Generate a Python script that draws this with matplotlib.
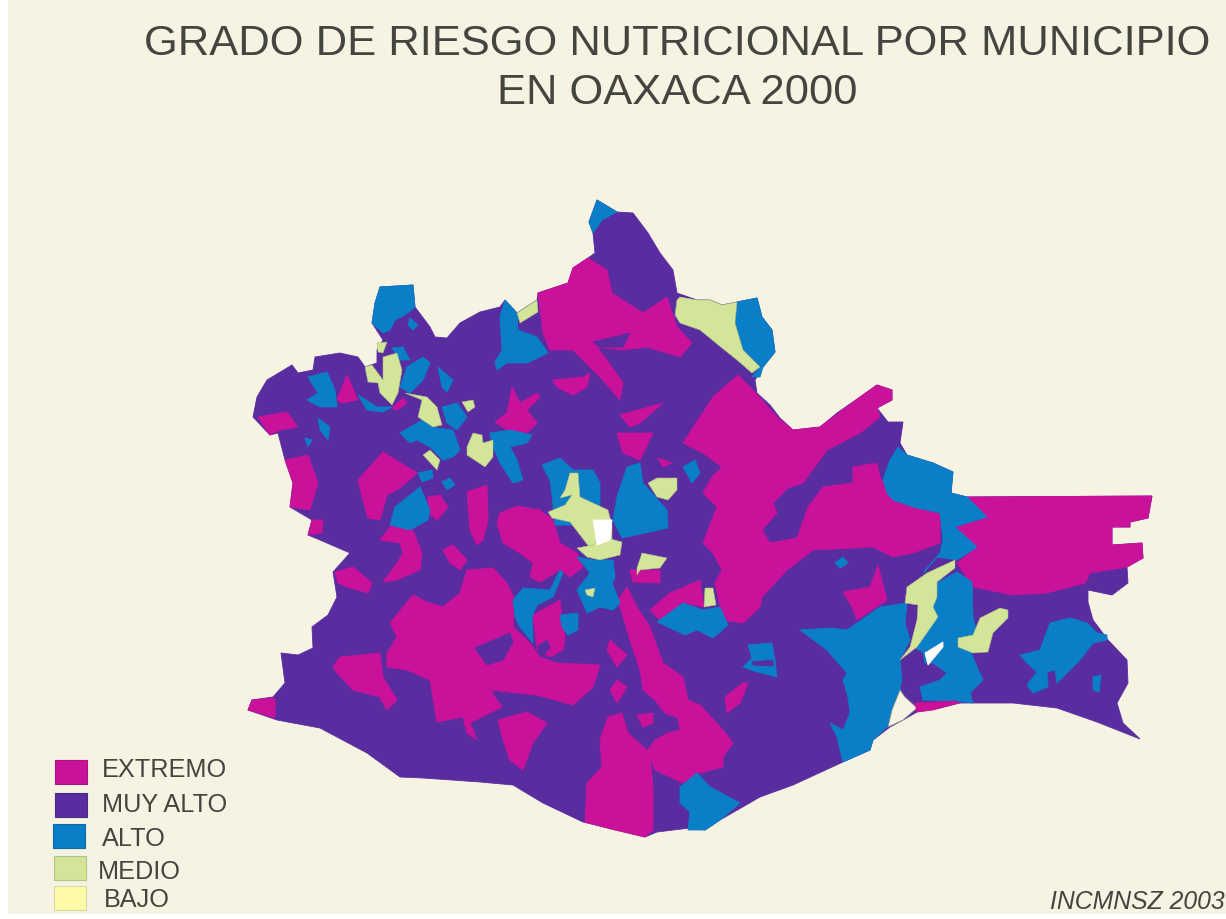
import matplotlib
matplotlib.use("Agg")
import matplotlib.pyplot as plt
from matplotlib.patches import Rectangle

plt.rcParams['font.family'] = ['Liberation Sans', 'DejaVu Sans']

TITLE_LINES = ["GRADO DE RIESGO NUTRICIONAL POR MUNICIPIO", "EN OAXACA 2000"]
CREDIT = "INCMNSZ 2003"
LEGEND_LABELS = ["EXTREMO", "MUY ALTO", "ALTO", "MEDIO", "BAJO"]

COL_BG = "#F6F3E2"
COL_EXTREMO = "#C9119A"
COL_MUY_ALTO = "#592DA0"
COL_ALTO = "#0A7EC6"
COL_MEDIO = "#D3E598"
COL_BAJO = "#FDFBA8"
COL_TEXT = "#444441"

# Map outline of the state (map x, map y)
ESTADO = [(248,710),(252,700),(273,697),(285,683),(281,653),(298,655),(313,648),(312,627),(328,615),(337,597),
 (333,572),(350,553),(320,540),(308,535),(312,520),(290,507),(293,483),(285,460),(278,433),(270,435),(253,417),
 (257,397),(267,380),(292,365),(298,373),(313,370),(315,357),(340,353),(358,357),(365,367),(377,363),(377,350),
 (383,340),(372,323),(375,303),(380,287),(413,285),(415,307),(430,327),(435,337),(447,338),(460,323),(480,312),
 (500,307),(505,300),(517,313),(537,300),(538,293),(568,283),(573,268),(588,258),(595,253),(593,233),(589,222),
 (597,200),(617,212),(633,213),(648,233),(660,253),(673,270),(677,293),(697,300),(710,300),(722,305),(737,302),
 (757,298),(762,317),(772,330),(775,352),(763,367),(755,380),(757,393),(770,405),(780,418),(793,430),(820,427),
 (837,413),(860,397),(877,385),(892,390),(892,400),(877,408),(888,422),(903,422),(900,443),(907,455),(933,463),
 (953,472),(951,493),(967,497),(1152,496),(1148,518),(1130,522),(1130,527),(1112,527),(1112,545),(1142,543),
 (1143,558),(1127,567),(1128,583),(1112,595),(1088,590),(1088,602),(1093,620),(1108,640),(1127,660),(1128,683),
 (1117,703),(1123,723),(1140,739),(1097,722),(1057,708),(1013,703),(960,703),(940,708),(917,712),(903,720),
 (890,727),(873,740),(870,750),(843,762),(793,785),(760,797),(720,820),(705,830),(690,828),(657,832),(645,837),
 (583,822),(543,803),(513,785),(480,782),(423,778),(400,777),(367,753),(320,728),(277,720)]

EXTREMO = [
 [(248,710),(252,700),(275,698),(275,718)],
 [(413,595),(427,602),(443,607),(460,593),(467,570),(493,568),(507,583),(515,600),(513,627),(530,643),(540,657),
  (557,663),(600,665),(593,687),(573,705),(537,695),(490,690),(502,707),(470,723),(477,740),(467,733),(463,717),
  (437,722),(430,680),(407,670),(387,667),(387,653),(397,637),(390,623)],
 [(333,667),(340,657),(380,653),(383,677),(397,700),(387,710),(380,697),(353,690),(337,673)],
 [(335,572),(353,567),(372,583),(368,593),(347,587),(338,583)],
 [(498,720),(527,712),(547,723),(533,743),(523,770),(510,760),(503,740)],
 [(585,822),(587,783),(602,767),(600,740),(608,717),(622,713),(628,733),(650,753),(653,787),(653,830),(645,837),(615,830)],
 [(627,587),(637,607),(650,627),(663,663),(683,677),(688,700),(700,705),(723,730),(733,743),(723,757),(723,767),
  (700,773),(683,783),(672,778),(655,770),(648,750),(655,740),(668,733),(680,730),(678,718),(665,713),(655,700),
  (643,690),(640,670),(630,640),(618,600)],
 [(610,640),(627,655),(617,667),(607,650)],
 [(617,680),(627,687),(617,703),(610,690)],
 [(637,715),(653,713),(653,723),(643,727)],
 [(497,523),(500,513),(517,506),(540,510),(553,520),(560,543),(577,553),(583,567),(570,577),(560,570),(540,582),
  (530,577),(533,563),(520,553),(503,543)],
 [(380,540),(390,527),(410,523),(422,553),(420,570),(397,580),(383,582),(397,563),(403,553),(400,543)],
 [(443,550),(453,545),(467,560),(460,570),(450,563)],
 [(467,492),(487,485),(488,520),(483,540),(477,545),(470,530)],
 [(428,497),(440,495),(448,507),(437,520),(428,513)],
 [(358,480),(383,452),(417,473),(400,488),(387,495),(380,520),(368,518),(362,497)],
 [(285,460),(308,455),(318,483),(310,510),(290,507),(293,483)],
 [(308,535),(312,520),(323,520),(322,533)],
 [(258,417),(287,412),(298,427),(280,430),(270,435)],
 [(337,400),(347,375),(358,400),(342,403)],
 [(392,408),(403,398),(407,403),(397,410)],
 [(495,422),(507,413),(512,387),(520,403),(537,393),(540,397),(527,410),(537,423),(527,433),(507,430)],
 [(538,293),(568,283),(573,268),(588,258),(607,270),(612,293),(643,313),(667,297),(677,327),(692,343),(680,357),
  (647,347),(623,350),(597,347),(607,360),(623,383),(620,400),(600,377),(590,367),(573,350),(550,350),(543,333)],
 [(553,380),(583,377),(590,373),(587,387),(573,395),(557,387)],
 [(620,415),(663,403),(640,423),(630,427)],
 [(617,433),(653,433),(640,460),(623,453)],
 [(658,458),(672,463),(663,467)],
 [(683,443),(713,397),(738,375),(753,390),(777,417),(793,430),(820,427),(860,397),(877,385),(892,390),(892,400),
  (877,408),(880,417),(860,433),(827,450),(803,483),(788,488),(773,503),(777,513),(762,530),(770,543),(797,538),
  (808,507),(823,487),(853,483),(853,467),(877,463),(880,477),(893,500),(913,507),(940,513),(940,543),(913,553),
  (893,557),(873,547),(813,550),(787,570),(762,597),(760,607),(743,623),(723,620),(715,583),(722,570),(713,553),
  (703,543),(717,507),(703,493),(712,477),(722,467),(703,453)],
 [(650,610),(670,593),(700,580),(704,607),(683,603),(660,620)],
 [(967,497),(1152,496),(1148,518),(1130,522),(1130,527),(1112,527),(1112,545),(1142,543),(1143,558),(1127,567),
  (1090,573),(1085,583),(1047,593),(1013,595),(973,587),(957,563),(977,547),(955,527),(987,517)],
 [(935,485),(943,490),(938,492)],
 [(725,697),(743,683),(748,683),(740,703),(727,713)],
 [(843,592),(870,587),(878,565),(887,600),(857,620),(852,607)],
 [(533,615),(560,600),(565,637),(563,650),(550,657),(537,650)],
 [(630,570),(660,570),(660,583),(633,582)],
 [(603,588),(613,588),(607,593)],
 [(915,703),(957,701),(958,703),(933,710),(917,712)],
]

MUY_ALTO = [
 [(475,648),(510,633),(513,642),(503,660),(487,665)],
 [(593,342),(630,333),(623,347),(600,347)],
 [(537,647),(547,640),(550,648),(542,657)],
]

ALTO = [
 [(898,447),(907,455),(933,463),(953,472),(951,493),(967,497),(987,517),(955,527),(977,547),(957,560),(937,557),
  (923,573),(940,553),(943,540),(940,513),(913,507),(893,500),(887,493),(883,480),(890,460)],
 [(957,572),(972,582),(973,617),(977,633),(958,640),(970,650),(977,667),(983,680),(970,693),(973,703),(957,701),
  (923,700),(920,687),(940,680),(947,673),(933,663),(925,663),(923,652),(915,648),(937,617),(933,607),(937,583)],
 [(800,630),(830,628),(847,630),(857,623),(880,607),(907,603),(905,623),(910,640),(900,660),(902,680),(900,687),
  (903,697),(893,710),(887,727),(873,740),(870,750),(843,762),(837,737),(830,723),(843,730),(850,713),(848,697),
  (843,680),(847,673),(827,650)],
 [(748,645),(772,643),(775,660),(777,677),(757,672),(743,667),(752,658)],
 [(680,787),(697,773),(710,787),(740,803),(720,820),(705,830),(688,830),(690,812),(680,803)],
 [(657,622),(683,603),(703,610),(720,607),(728,625),(713,638),(697,630),(685,635)],
 [(1020,655),(1040,650),(1050,623),(1070,618),(1087,623),(1097,633),(1107,635),(1107,640),(1093,643),(1080,660),
  (1057,683),(1055,670),(1047,672),(1048,687),(1033,693),(1027,685),(1037,672),(1027,663)],
 [(1093,677),(1101,675),(1099,692),(1093,690)],
 [(380,287),(413,285),(415,307),(405,315),(395,320),(390,330),(383,333),(372,323),(375,303)],
 [(410,318),(418,325),(413,330),(408,325)],
 [(505,300),(517,313),(518,330),(537,337),(548,353),(527,363),(507,363),(497,370),(495,362),(502,350),(500,317)],
 [(737,302),(757,298),(762,317),(772,330),(775,352),(763,367),(760,377),(752,377),(760,367),(743,350),(735,323)],
 [(597,200),(617,212),(602,220),(593,233),(589,222)],
 [(308,377),(327,372),(335,390),(337,407),(320,407),(307,400),(318,393)],
 [(358,395),(377,407),(392,407),(383,412),(367,410)],
 [(392,348),(403,347),(410,360),(400,360)],
 [(400,387),(407,367),(423,357),(430,363),(423,380),(410,393)],
 [(438,367),(453,380),(447,392),(442,387)],
 [(318,418),(330,427),(328,440),(320,430)],
 [(305,438),(312,440),(308,447)],
 [(442,407),(457,403),(467,417),(457,430),(447,423)],
 [(400,433),(422,420),(437,428),(453,430),(460,450),(453,457),(443,460),(430,447),(417,440),(410,443)],
 [(418,473),(432,470),(433,478),(422,482)],
 [(442,482),(450,478),(455,485),(447,490)],
 [(395,507),(420,487),(430,510),(428,520),(410,530),(390,525)],
 [(490,433),(510,430),(532,435),(527,443),(510,447),(517,460),(523,480),(513,483),(500,463),(493,447)],
 [(542,465),(560,458),(573,470),(593,470),(600,483),(600,510),(612,520),(590,525),(555,525),(552,495),(550,480)],
 [(577,557),(593,560),(613,560),(615,578),(612,583),(620,603),(613,610),(600,607),(587,613),(577,590),(590,573)],
 [(627,467),(640,463),(643,483),(667,510),(668,528),(622,538),(613,520),(617,497)],
 [(683,467),(695,460),(700,473),(692,483)],
 [(513,600),(523,588),(550,590),(560,570),(563,573),(553,597),(537,605),(532,617),(533,643),(520,627),(515,617)],
 [(560,615),(578,613),(578,630),(568,635),(562,627)],
 [(835,563),(843,557),(848,563),(840,568)],
]

MUY_ALTO_SOBRE_ALTO = [
 [(752,662),(773,660),(773,666),(753,665)],
]

MEDIO = [
 [(955,560),(955,568),(937,582),(937,597),(933,607),(938,617),(917,647),(900,660),(910,647),(917,620),(918,605),(905,603),(907,587),(927,573)],
 [(980,618),(1000,608),(1008,610),(1008,618),(993,633),(988,652),(973,653),(958,647),(958,638),(973,635)],
 [(705,588),(713,588),(716,605),(704,607)],
 [(517,313),(537,300),(538,312),(520,323)],
 [(680,297),(697,300),(710,300),(722,305),(737,302),(735,323),(743,350),(760,367),(752,373),(737,360),(722,348),(700,330),(680,323),(675,315),(677,300)],
 [(365,367),(372,365),(383,380),(383,357),(397,353),(402,370),(398,393),(392,405),(380,393),(378,383),(368,382)],
 [(377,343),(387,342),(383,353),(378,352)],
 [(405,393),(427,397),(437,407),(442,425),(433,427),(418,417),(422,400)],
 [(462,402),(473,400),(475,407),(468,412)],
 [(423,455),(430,450),(440,460),(437,470)],
 [(467,447),(473,433),(482,435),(483,443),(493,440),(493,457),(485,467),(467,455)],
 [(570,473),(578,473),(580,497),(593,503),(608,510),(612,525),(612,545),(590,548),(570,522),(552,518),(548,512),(565,505),(572,495),(560,498),(565,490)],
 [(577,548),(593,545),(603,537),(622,542),(620,555),(600,560),(587,557)],
 [(585,590),(595,588),(593,597),(587,595)],
 [(648,483),(657,478),(677,478),(677,490),(668,500),(657,497)],
 [(642,553),(667,558),(660,568),(640,570),(637,575),(637,568)],
]

SIN_DATO = [
 [(593,520),(612,520),(610,540),(597,545)],
 [(925,653),(943,642),(943,647),(928,665)],
]

BAHIA = [
 [(900,690),(905,697),(917,708),(903,720),(888,727),(892,710)],
]

fig = plt.figure(figsize=(12.26, 9.19), dpi=100, facecolor="white")
ax = fig.add_axes([0, 0, 1, 1])
ax.set_xlim(0, 1226)
ax.set_ylim(919, 0)
ax.axis("off")

ax.add_patch(Rectangle((8, 0), 1218, 914, facecolor=COL_BG, edgecolor="none", zorder=0))

def draw(polys, color, z, edge=None, lw=0.0):
    for p in polys:
        xs, ys = zip(*p)
        ax.fill(xs, ys, facecolor=color, edgecolor=edge if edge else color,
                linewidth=lw if edge else 0.6, zorder=z)

draw([ESTADO], COL_MUY_ALTO, 1)
draw(EXTREMO[:-1], COL_EXTREMO, 2)
draw(MUY_ALTO, COL_MUY_ALTO, 3)
draw(ALTO, COL_ALTO, 4)
draw(MUY_ALTO_SOBRE_ALTO, COL_MUY_ALTO, 5)
draw(MEDIO, COL_MEDIO, 6, edge="#A9B98A", lw=0.4)
draw(SIN_DATO, "#FFFFFF", 7)
draw(BAHIA, COL_BG, 7, edge="#8E8E80", lw=0.5)
draw(EXTREMO[-1:], COL_EXTREMO, 8)

ax.text(677, 44, TITLE_LINES[0], ha="center", va="center", fontsize=31.3, color=COL_TEXT, zorder=10)
ax.text(677, 93, TITLE_LINES[1], ha="center", va="center", fontsize=31.3, color=COL_TEXT, zorder=10)

LEG_COLORS = [COL_EXTREMO, COL_MUY_ALTO, COL_ALTO, COL_MEDIO, COL_BAJO]
LEG_EDGES = ["#A8157F", "#4A2A80", "#0D6AA5", "#B3C486", "#D8D7A0"]
LEG_BOX = [(55,760),(55,793),(53,824),(54,856),(54,886)]
LEG_TXT = [(102,770),(102,805),(102,839),(98,872),(104,900)]
for lab, c, e, b, t in zip(LEGEND_LABELS, LEG_COLORS, LEG_EDGES, LEG_BOX, LEG_TXT):
    ax.add_patch(Rectangle(b, 32, 23.5, facecolor=c, edgecolor=e, linewidth=0.8, zorder=9))
    ax.text(t[0], t[1], lab, ha="left", va="center", fontsize=18.2, color=COL_TEXT, zorder=10)

ax.text(1225, 902, CREDIT, ha="right", va="center", fontsize=17.8, style="italic", color=COL_TEXT, zorder=10)

fig.savefig("out.png", dpi=100, facecolor="white")
